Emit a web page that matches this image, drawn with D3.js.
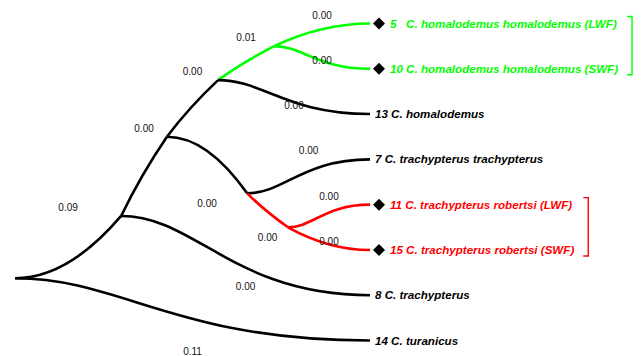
<!DOCTYPE html>
<html><head><meta charset="utf-8">
<script src="https://cdn.jsdelivr.net/npm/d3@7"></script>
<style>
html,body{margin:0;padding:0;background:#fff;}
svg{display:block;}
</style></head><body>
<svg id="chart" width="644" height="356"></svg>
<script>
// ---------- data ----------
const leafIds    = ["t5", "t10", "t13", "t7", "t11", "t15", "t8", "t14"];
const leafLabels = [
  "5   C. homalodemus homalodemus (LWF)",
  "10 C. homalodemus homalodemus (SWF)",
  "13 C. homalodemus",
  "7 C. trachypterus trachypterus",
  "11 C. trachypterus robertsi (LWF)",
  "15 C. trachypterus robertsi (SWF)",
  "8 C. trachypterus",
  "14 C. turanicus"
];
const leafGroup  = ["homalodemus", "homalodemus", null, null, "robertsi", "robertsi", null, null];
const leafMarked = [true, true, false, false, true, true, false, false];

const nodeIds      = ["root", "A", "B", "C", "D", "E", "F"];
const nodeChildren = [["A", "t14"], ["B", "t8"], ["C", "E"], ["D", "t13"], ["t5", "t10"], ["t7", "F"], ["t11", "t15"]];
const nodeDepth    = [0, 29.9, 42.8, 57.2, 73.0, 65.4, 76.9]; // relative depth, tips = 100
const tipDepth     = 100;

const branchChild  = ["A", "t14", "B", "t8", "C", "E", "D", "t13", "t5", "t10", "t7", "F", "t11", "t15"];
const branchLength = ["0.09", "0.11", "0.00", "0.00", "0.00", "0.00", "0.01", "0.00", "0.00", "0.00", "0.00", "0.00", "0.00", "0.00"];

const groupColor = {homalodemus: "#00ff00", robertsi: "#ff0000"};

// ---------- build tree ----------
function build(id) {
  const ni = nodeIds.indexOf(id);
  if (ni >= 0) return {id, depth: nodeDepth[ni], children: nodeChildren[ni].map(build)};
  const li = leafIds.indexOf(id);
  return {id, depth: tipDepth, leaf: li, label: leafLabels[li], group: leafGroup[li], marked: leafMarked[li]};
}
const root = d3.hierarchy(build("root"));

const svg = d3.select("#chart");
const x = d3.scaleLinear().domain([0, 100]).range([15, 370]);
const y = d3.scaleLinear().domain([0, leafIds.length - 1]).range([23.5, 340.5]);

root.eachAfter(n => {
  n.px = x(n.data.depth);
  if (n.children) n.py = (n.children[0].py + n.children[n.children.length - 1].py) / 2;
  else n.py = y(n.data.leaf);
});
root.eachAfter(n => {
  if (!n.children) n.grp = n.data.group;
  else {
    const g = n.children.map(c => c.grp);
    n.grp = g.every(v => v && v === g[0]) ? g[0] : null;
  }
});

function edgePath(P, Q) {
  const p = d3.path();
  const dx = Q.px - P.px, dy = Q.py - P.py, c = dy / dx;
  let cont = false;
  if (P.parent) {
    const up = P.py < P.parent.py;
    const cc = up ? P.children[0] : P.children[P.children.length - 1];
    cont = cc === Q;
  }
  p.moveTo(P.px, P.py);
  if (!cont && !Q.children) {
    p.bezierCurveTo(P.px + 0.3 * dx, P.py, P.px + 0.45 * dx, Q.py, Q.px, Q.py);
  } else if (!cont && Q.children) {
    p.quadraticCurveTo(P.px + dx / 2, P.py, Q.px, Q.py);
  } else if (cont && !Q.children) {
    p.quadraticCurveTo(P.px + dx / 2, Q.py, Q.px, Q.py);
  } else {
    p.bezierCurveTo(P.px + dx / 3, P.py + 1.2 * c * dx / 3, Q.px - dx / 3, Q.py - 0.85 * c * dx / 3, Q.px, Q.py);
  }
  return p.toString();
}

const links = root.links();
svg.append("g").selectAll("path").data(links).join("path")
  .attr("d", l => edgePath(l.source, l.target))
  .attr("fill", "none")
  .attr("stroke", l => l.target.grp ? groupColor[l.target.grp] : "#000")
  .attr("stroke-width", 2.6);

// branch length labels
svg.append("g").selectAll("text").data(links).join("text")
  .attr("x", l => (l.source.px + l.target.px) / 2)
  .attr("y", l => {
    const P = l.source, Q = l.target;
    const last = P.children[P.children.length - 1] === Q;
    const below = last && (Q.children || !P.parent);
    return below ? Q.py + 14 : Q.py - 5;
  })
  .attr("text-anchor", "middle")
  .attr("font-family", "'Liberation Sans', Arial, sans-serif")
  .attr("font-size", 10)
  .attr("fill", "#111")
  .text(l => branchLength[branchChild.indexOf(l.target.data.id)]);

// markers
const leaves = root.leaves();
svg.append("g").selectAll("path").data(leaves.filter(d => d.data.marked)).join("path")
  .attr("d", d3.symbol(d3.symbolSquare, 72))
  .attr("transform", d => `translate(${d.px + 9},${d.py}) rotate(45)`)
  .attr("fill", "#000");

// leaf labels
const lab = svg.append("g").selectAll("text").data(leaves).join("text")
  .attr("x", d => d.px + (d.data.marked ? 20 : 5))
  .attr("y", d => d.py + 4)
  .attr("font-family", "'Liberation Sans', Arial, sans-serif")
  .attr("font-size", 11.6)
  .attr("font-weight", "bold")
  .attr("font-style", "italic")
  .style("white-space", "pre")
  .attr("fill", d => d.data.group ? groupColor[d.data.group] : "#000")
  .text(d => d.data.label);

// group brackets
const groups = Array.from(new Set(leafGroup.filter(g => g)));
groups.forEach(g => {
  const gl = leaves.filter(d => d.data.group === g);
  let maxEnd = 0;
  lab.filter(d => d.data.group === g).each(function(d) {
    maxEnd = Math.max(maxEnd, +this.getAttribute("x") + this.getComputedTextLength());
  });
  const bx = maxEnd + 14;
  const y0 = gl[0].py - 7, y1 = gl[gl.length - 1].py + 6;
  svg.append("path")
    .attr("d", `M${bx - 5},${y0}H${bx}V${y1}H${bx - 5}`)
    .attr("fill", "none")
    .attr("stroke", groupColor[g])
    .attr("stroke-width", 1.4);
});
</script>
</body></html>
